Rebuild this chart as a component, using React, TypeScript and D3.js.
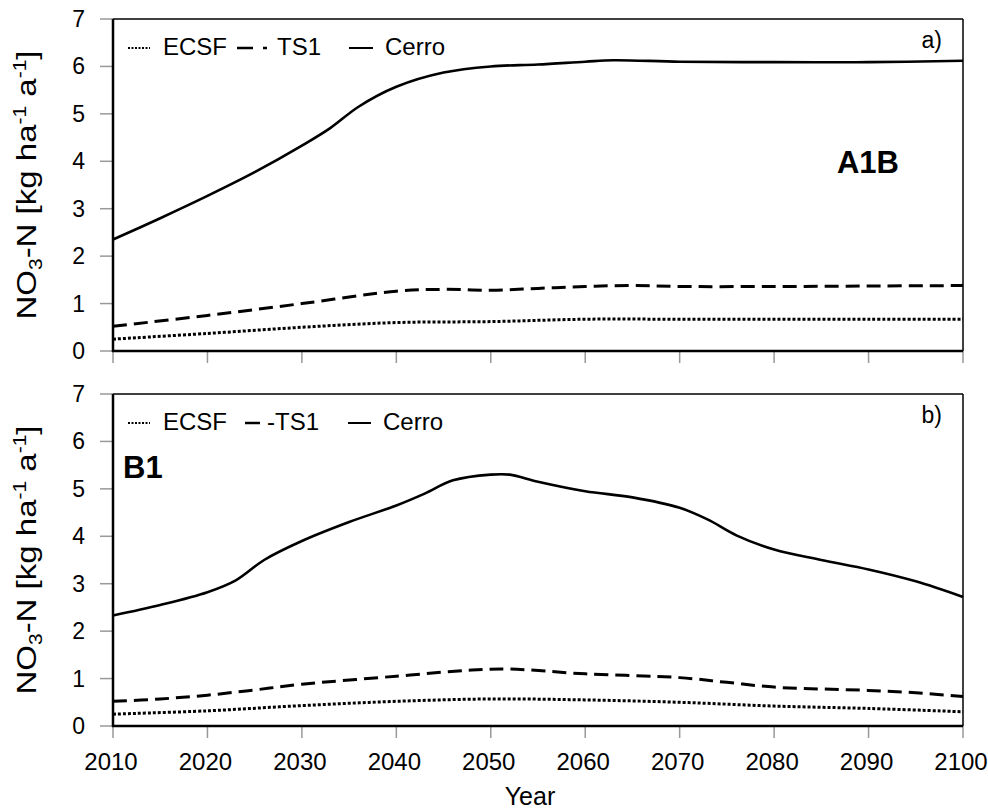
import React from "react";
import * as d3 from "d3";

// ---------- data ----------
const xTickValues = [2010, 2020, 2030, 2040, 2050, 2060, 2070, 2080, 2090, 2100];
const yTickValues = [0, 1, 2, 3, 4, 5, 6, 7];

// Panel a) A1B
const a1bCerroYears = [2010, 2015, 2020, 2025, 2030, 2033, 2036, 2040, 2045, 2050, 2055, 2060, 2063, 2070, 2080, 2090, 2100];
const a1bCerroValues = [2.35, 2.8, 3.27, 3.77, 4.33, 4.7, 5.15, 5.57, 5.87, 6.0, 6.04, 6.1, 6.13, 6.1, 6.09, 6.09, 6.12];
const a1bTs1Years = [2010, 2020, 2030, 2040, 2045, 2050, 2055, 2060, 2065, 2070, 2080, 2090, 2100];
const a1bTs1Values = [0.52, 0.75, 1.0, 1.26, 1.3, 1.28, 1.32, 1.36, 1.38, 1.36, 1.36, 1.37, 1.38];
const a1bEcsfYears = [2010, 2020, 2030, 2040, 2050, 2060, 2070, 2080, 2090, 2100];
const a1bEcsfValues = [0.25, 0.37, 0.5, 0.6, 0.62, 0.67, 0.67, 0.67, 0.67, 0.67];

// Panel b) B1
const b1CerroYears = [2010, 2015, 2020, 2023, 2026, 2030, 2035, 2040, 2043, 2046, 2050, 2052, 2055, 2060, 2065, 2070, 2073, 2076, 2080, 2085, 2090, 2095, 2100];
const b1CerroValues = [2.33, 2.55, 2.82, 3.07, 3.5, 3.9, 4.3, 4.65, 4.9, 5.18, 5.3, 5.3, 5.15, 4.95, 4.82, 4.6, 4.35, 4.02, 3.72, 3.5, 3.3, 3.05, 2.72];
const b1Ts1Years = [2010, 2015, 2020, 2025, 2030, 2040, 2048, 2052, 2060, 2070, 2075, 2080, 2085, 2090, 2095, 2100];
const b1Ts1Values = [0.52, 0.57, 0.65, 0.76, 0.88, 1.05, 1.18, 1.2, 1.1, 1.02, 0.92, 0.82, 0.78, 0.75, 0.7, 0.62];
const b1EcsfYears = [2010, 2020, 2030, 2040, 2050, 2060, 2070, 2080, 2090, 2100];
const b1EcsfValues = [0.25, 0.32, 0.43, 0.52, 0.57, 0.55, 0.5, 0.42, 0.37, 0.3];

// ---------- layout ----------
const W = 988;
const H = 810;
const left = 113;
const right = 963;
const FONT = "'Liberation Sans', Arial, Helvetica, sans-serif";

const x = d3.scaleLinear().domain([2010, 2100]).range([left, right]);

type Series = { years: number[]; values: number[]; kind: "ecsf" | "ts1" | "cerro" };

const styleFor = (kind: string) => {
  if (kind === "ecsf") return { dash: "3,2", width: 3 };
  if (kind === "ts1") return { dash: "14,7", width: 3 };
  return { dash: undefined, width: 2.6 };
};

function Panel(props: {
  top: number;
  bottom: number;
  series: Series[];
  corner: string;
  scenario: string;
  scenarioX: number;
  scenarioY: number;
  scenarioAnchor: string;
  legendVariant: "a" | "b";
  showXLabels: boolean;
}) {
  const { top, bottom, series, corner, scenario, legendVariant, showXLabels } = props;
  const y = d3.scaleLinear().domain([0, 7]).range([bottom, top]);
  const line = d3
    .line<[number, number]>()
    .x((d) => x(d[0]))
    .y((d) => y(d[1]))
    .curve(d3.curveCatmullRom.alpha(0.5));
  const ly = top + 28;
  const tb = top + 36;
  const mid = (top + bottom) / 2;
  return (
    <g>
      <line x1={left} x2={right} y1={top} y2={top} stroke="#000" strokeWidth={1.5} />
      <line x1={right} x2={right} y1={top} y2={bottom} stroke="#000" strokeWidth={1.5} />
      {yTickValues.map((t) => (
        <g key={"y" + t}>
          <line x1={left - 13} x2={left} y1={y(t)} y2={y(t)} stroke="#999" strokeWidth={1.5} />
          <text x={85} y={y(t) + 8} textAnchor="end" fontSize={23} fontFamily={FONT} fill="#000">
            {t}
          </text>
        </g>
      ))}
      {xTickValues.map((t) => (
        <g key={"x" + t}>
          <line x1={x(t)} x2={x(t)} y1={bottom} y2={bottom + 12} stroke="#999" strokeWidth={1.5} />
          {showXLabels && (
            <text x={x(t) - 2} y={bottom + 44} textAnchor="middle" fontSize={24} fontFamily={FONT} fill="#000">
              {t}
            </text>
          )}
        </g>
      ))}
      {series.map((s, i) => {
        const st = styleFor(s.kind);
        const pts = s.years.map((yr, j) => [yr, s.values[j]] as [number, number]);
        return (
          <path
            key={i}
            d={line(pts) || ""}
            fill="none"
            stroke="#000"
            strokeWidth={st.width}
            strokeDasharray={st.dash}
          />
        );
      })}
      <line x1={left} x2={left} y1={top} y2={bottom + 1} stroke="#000" strokeWidth={2.5} />
      <line x1={left - 1} x2={right} y1={bottom} y2={bottom} stroke="#000" strokeWidth={2.5} />
      <line x1={128} x2={150} y1={ly + 1} y2={ly + 1} stroke="#000" strokeWidth={2} strokeDasharray="2,1.5" />
      <text x={163} y={tb} fontSize={24} fontFamily={FONT} fill="#000">ECSF</text>
      {legendVariant === "a" ? (
        <g>
          <line x1={237} x2={253} y1={ly + 1} y2={ly + 1} stroke="#000" strokeWidth={2.5} />
          <line x1={263} x2={267} y1={ly + 1} y2={ly + 1} stroke="#000" strokeWidth={2.5} />
          <text x={277} y={tb} fontSize={24} fontFamily={FONT} fill="#000">TS1</text>
          <line x1={349} x2={373} y1={ly + 1} y2={ly + 1} stroke="#000" strokeWidth={2} />
          <text x={385} y={tb} fontSize={24} fontFamily={FONT} fill="#000">Cerro</text>
        </g>
      ) : (
        <g>
          <line x1={245} x2={260} y1={ly + 1} y2={ly + 1} stroke="#000" strokeWidth={2.5} />
          <text x={267} y={tb} fontSize={24} fontFamily={FONT} fill="#000">-TS1</text>
          <line x1={348} x2={371} y1={ly + 1} y2={ly + 1} stroke="#000" strokeWidth={2} />
          <text x={383} y={tb} fontSize={24} fontFamily={FONT} fill="#000">Cerro</text>
        </g>
      )}
      <text x={942} y={top + 29} textAnchor="end" fontSize={23} fontFamily={FONT} fill="#000">
        {corner}
      </text>
      <text
        x={props.scenarioX}
        y={props.scenarioY}
        textAnchor={props.scenarioAnchor}
        fontSize={31}
        fontWeight="bold"
        fontFamily={FONT}
        fill="#000"
      >
        {scenario}
      </text>
      <text
        transform={`translate(36,${mid}) rotate(-90) scale(1,0.84)`}
        textAnchor="middle"
        fontSize={33}
        fontFamily={FONT}
        fill="#000"
      >
        NO
        <tspan fontSize={21} dy={7}>3</tspan>
        <tspan dy={-7}>-N [kg ha</tspan>
        <tspan fontSize={21} dy={-12}>-1</tspan>
        <tspan dy={12}> a</tspan>
        <tspan fontSize={21} dy={-12}>-1</tspan>
        <tspan dy={12}>]</tspan>
      </text>
    </g>
  );
}

export default function App() {
  const seriesA: Series[] = [
    { years: a1bEcsfYears, values: a1bEcsfValues, kind: "ecsf" },
    { years: a1bTs1Years, values: a1bTs1Values, kind: "ts1" },
    { years: a1bCerroYears, values: a1bCerroValues, kind: "cerro" },
  ];
  const seriesB: Series[] = [
    { years: b1EcsfYears, values: b1EcsfValues, kind: "ecsf" },
    { years: b1Ts1Years, values: b1Ts1Values, kind: "ts1" },
    { years: b1CerroYears, values: b1CerroValues, kind: "cerro" },
  ];
  return (
    <div style={{ position: "absolute", left: 0, top: 0 }}>
      <svg width={W} height={H} viewBox={`0 0 ${W} ${H}`} style={{ display: "block", background: "#fff" }}>
        <rect x={0} y={0} width={W} height={H} fill="#fff" />
        <Panel
          top={19}
          bottom={351}
          series={seriesA}
          corner="a)"
          scenario="A1B"
          scenarioX={868}
          scenarioY={173}
          scenarioAnchor="middle"
          legendVariant="a"
          showXLabels={false}
        />
        <Panel
          top={394}
          bottom={726}
          series={seriesB}
          corner="b)"
          scenario="B1"
          scenarioX={123}
          scenarioY={478}
          scenarioAnchor="start"
          legendVariant="b"
          showXLabels={true}
        />
        <text x={530} y={805} textAnchor="middle" fontSize={25} fontFamily={FONT} fill="#000">
          Year
        </text>
      </svg>
    </div>
  );
}
